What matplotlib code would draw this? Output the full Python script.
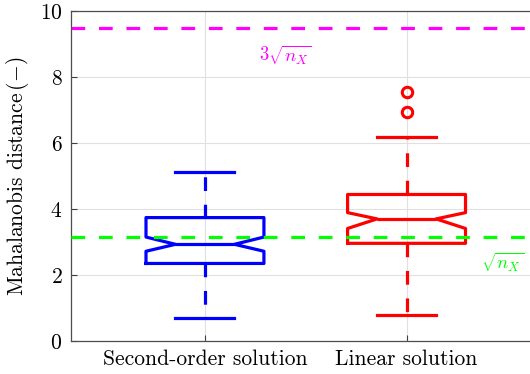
import matplotlib
matplotlib.use("Agg")
import matplotlib.pyplot as plt
import numpy as np

plt.rcParams['font.family'] = 'serif'
plt.rcParams['font.serif'] = ['cmr10']
plt.rcParams['mathtext.fontset'] = 'cm'
plt.rcParams['axes.formatter.use_mathtext'] = True

# Box statistics for the two solution methods
labels = ['Second-order solution', 'Linear solution']
medians = [2.93, 3.70]
q1 = [2.35, 2.96]
q3 = [3.74, 4.44]
whisker_lo = [0.69, 0.78]
whisker_hi = [5.11, 6.19]
notch_lo = [2.72, 3.41]
notch_hi = [3.15, 3.89]
outliers = [[], [6.93, 7.54]]
colors = ['blue', 'red']

n_X = 10  # dimension of the state
thresholds = [np.sqrt(n_X), 3 * np.sqrt(n_X)]

fig = plt.figure(figsize=(5.3, 3.74), dpi=100)
ax = fig.add_axes([0.1334, 0.0882, 0.887, 0.8824])

positions = [1, 2]
for i, pos in enumerate(positions):
    stats = [dict(med=medians[i], q1=q1[i], q3=q3[i],
                  whislo=whisker_lo[i], whishi=whisker_hi[i],
                  cilo=notch_lo[i], cihi=notch_hi[i],
                  fliers=outliers[i], label=labels[i])]
    c = colors[i]
    ax.bxp(stats, positions=[pos], widths=0.585, shownotches=True,
           boxprops=dict(color=c, lw=2.3),
           medianprops=dict(color=c, lw=2.3),
           whiskerprops=dict(color=c, lw=2.3, linestyle=(0, (4.3, 4.3))),
           capprops=dict(color=c, lw=2.3),
           flierprops=dict(marker='o', markerfacecolor='none',
                           markeredgecolor=c, markersize=7.5,
                           markeredgewidth=2.2))

# threshold lines
ax.axhline(thresholds[1], color='magenta', lw=2.3, linestyle=(0, (4.3, 4.3)), zorder=1)
ax.axhline(thresholds[0], color='lime', lw=2.3, linestyle=(0, (4.3, 4.3)), zorder=3)
ax.text(1.40, 8.67, r'$3\sqrt{n_X}$', color='magenta', fontsize=13.5,
        ha='center', va='center')
ax.text(2.475, 2.39, r'$\sqrt{n_X}$', color='lime', fontsize=13.5,
        ha='center', va='center')

ax.set_xlim(0.334, 2.666)
ax.set_ylim(0, 10)
ax.set_yticks([0, 2, 4, 6, 8, 10])
ax.set_xticks(positions)
ax.set_xticklabels(labels)
ax.set_ylabel(r'Mahalanobis distance$\,(-)$', fontsize=15.5, labelpad=6)
ax.tick_params(direction='in', labelsize=15.5, length=4, color='0.25', pad=6)
ax.grid(True, color='0.88', lw=0.8)
ax.set_axisbelow(True)
for s in ax.spines.values():
    s.set_color('0.3')
    s.set_linewidth(0.9)

fig.savefig('out.png', dpi=100)
